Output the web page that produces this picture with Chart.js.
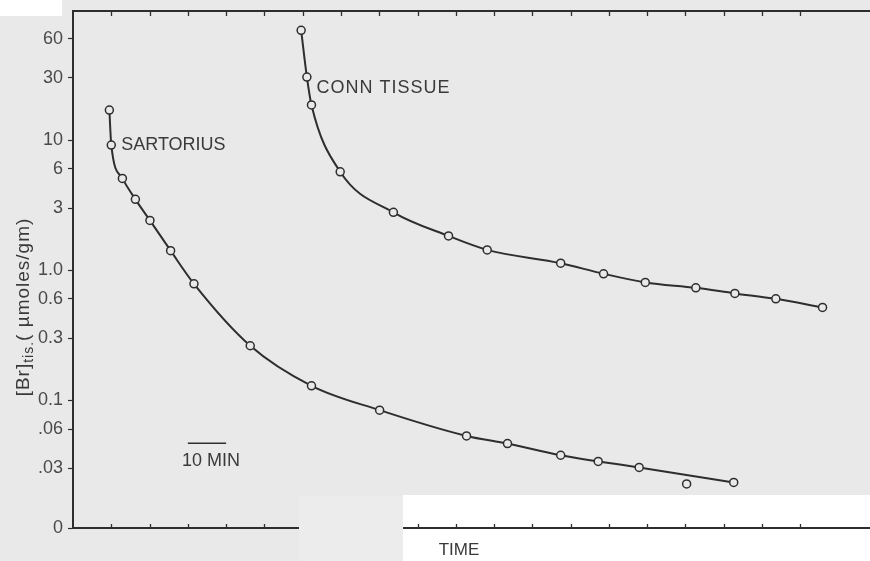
<!DOCTYPE html>
<html>
<head>
<meta charset="utf-8">
<title>Bromide washout</title>
<script src="https://cdn.jsdelivr.net/npm/chart.js@4.4.0/dist/chart.umd.min.js"></script>
<style>
  html, body { margin: 0; padding: 0; background: #e9e9e9; }
  #wrap { width: 870px; height: 561px; }
</style>
</head>
<body>
<div id="wrap"><canvas id="chart" width="870" height="561"></canvas></div>
<script>
// washout time (min) and tissue bromide (umoles/gm)
var sartTime = [9.5, 10.0, 12.9, 16.3, 20.1, 25.5, 31.6, 46.3, 62.3, 80.1, 102.8, 113.5, 127.4, 137.2, 147.9, 172.6];
var sartBr = [17.0, 9.15, 5.07, 3.50, 2.41, 1.41, 0.784, 0.262, 0.129, 0.0838, 0.0531, 0.0464, 0.0377, 0.0338, 0.0304, 0.0233];
// one sartorius point lies off the curve
var strayTime = [160.3];
var strayBr = [0.0227];
var connTime = [59.6, 61.1, 62.3, 69.8, 83.7, 98.1, 108.2, 127.4, 138.6, 149.5, 162.7, 172.9, 183.6, 195.8];
var connBr = [69.8, 30.5, 18.6, 5.70, 2.78, 1.83, 1.43, 1.13, 0.937, 0.804, 0.731, 0.662, 0.601, 0.516];
// axis bottom is labelled "0"
var yTickValues = [0.0104, 0.03, 0.06, 0.1, 0.3, 0.6, 1, 3, 6, 10, 30, 60];
var yTickLabels = ['0', '.03', '.06', '0.1', '0.3', '0.6', '1.0', '3', '6', '10', '30', '60'];
var xTickStep = 10;

var ink = '#2e2e2e';
var paper = '#e9e9e9';
var font = '"Liberation Sans", Arial, sans-serif';

function pts(xs, ys) {
  return xs.map(function (x, i) { return { x: x, y: ys[i] }; });
}

// paper, scan patches, inward ticks and hand lettering
var paperPlugin = {
  id: 'paper',
  beforeDraw: function (chart) {
    var c = chart.ctx;
    c.save();
    c.fillStyle = paper;
    c.fillRect(0, 0, chart.width, chart.height);
    c.fillStyle = '#ffffff';
    c.fillRect(0, 0, 62, 16);
    c.fillRect(403, 495, chart.width - 403, chart.height - 495);
    c.restore();
  },
  afterDraw: function (chart) {
    var c = chart.ctx, a = chart.chartArea;
    var xs = chart.scales.x, ys = chart.scales.y;
    c.save();
    c.strokeStyle = ink;
    c.fillStyle = ink;

    // top frame line
    c.lineWidth = 2;
    c.beginPath();
    c.moveTo(a.left - 1, a.top);
    c.lineTo(a.right, a.top);
    c.stroke();

    // inward ticks top and bottom every 10 min
    c.lineWidth = 1.3;
    xs.ticks.forEach(function (t) {
      if (t.value <= 0 || t.value % xTickStep !== 0) return;
      var px = Math.round(xs.getPixelForValue(t.value)) + 0.5;
      c.beginPath();
      c.moveTo(px, a.top);
      c.lineTo(px, a.top + 5);
      c.moveTo(px, a.bottom);
      c.lineTo(px, a.bottom - 4);
      c.stroke();
    });

    // grey scan patch over the time axis
    c.fillStyle = '#ececec';
    c.fillRect(299, 496, 104, 65);
    c.fillStyle = ink;

    // 10 min scale bar
    var by = ys.getPixelForValue(0.0466);
    c.lineWidth = 1.6;
    c.beginPath();
    c.moveTo(xs.getPixelForValue(30), by);
    c.lineTo(xs.getPixelForValue(40), by);
    c.stroke();

    c.fillStyle = '#3a3a3a';
    c.font = '18px ' + font;
    c.textBaseline = 'middle';
    c.textAlign = 'center';
    c.fillText('10 MIN', (xs.getPixelForValue(30) + xs.getPixelForValue(40)) / 2 + 4, by + 18);

    c.textAlign = 'left';
    c.fillText('SARTORIUS', xs.getPixelForValue(12.6), ys.getPixelForValue(9.15));
    c.letterSpacing = '1px';
    c.fillText('CONN TISSUE', xs.getPixelForValue(63.6), ys.getPixelForValue(25.3));
    c.letterSpacing = '0px';

    c.font = '17px ' + font;
    c.textAlign = 'center';
    c.fillText('TIME', 459, 550);

    // y title with subscript
    c.translate(22, 307);
    c.rotate(-Math.PI / 2);
    c.textAlign = 'left';
    c.textBaseline = 'alphabetic';
    c.letterSpacing = '1px';
    var p1 = '[Br]', p2 = 'tis.', p3 = '( \u00b5moles/gm)';
    c.font = '19px ' + font;
    var w1 = c.measureText(p1).width, w3 = c.measureText(p3).width;
    c.font = '14px ' + font;
    var w2 = c.measureText(p2).width;
    var x0 = -(w1 + w2 + w3) / 2;
    c.font = '19px ' + font;
    c.fillText(p1, x0, 7);
    c.font = '14px ' + font;
    c.fillText(p2, x0 + w1, 11);
    c.font = '19px ' + font;
    c.fillText(p3, x0 + w1 + w2, 7);
    c.restore();
  }
};

var lineStyle = {
  borderColor: ink,
  borderWidth: 2,
  pointRadius: 4,
  pointBorderWidth: 1.5,
  pointBorderColor: ink,
  pointBackgroundColor: paper,
  cubicInterpolationMode: 'monotone',
  fill: false
};

new Chart(document.getElementById('chart'), {
  type: 'line',
  data: {
    datasets: [
      Object.assign({ label: 'SARTORIUS', data: pts(sartTime, sartBr) }, lineStyle),
      Object.assign({ label: 'CONN TISSUE', data: pts(connTime, connBr) }, lineStyle),
      Object.assign({ label: 'stray', data: pts(strayTime, strayBr), showLine: false }, lineStyle)
    ]
  },
  options: {
    responsive: false,
    animation: false,
    devicePixelRatio: 1,
    layout: { autoPadding: false, padding: { top: 11, right: 0, left: 0, bottom: 0 } },
    plugins: { legend: { display: false }, tooltip: { enabled: false } },
    scales: {
      x: {
        type: 'linear',
        min: 0,
        max: 208.2,
        ticks: { display: false, stepSize: xTickStep },
        grid: { display: false },
        border: { display: true, color: ink, width: 2 },
        afterFit: function (s) { s.height = 33; }
      },
      y: {
        type: 'logarithmic',
        min: 0.0104,
        max: 98.2,
        afterBuildTicks: function (s) {
          s.ticks = yTickValues.map(function (v) { return { value: v }; });
        },
        ticks: {
          autoSkip: false,
          padding: 5,
          color: '#4a4a4a',
          font: { family: font, size: 18 },
          callback: function (v, i) { return yTickLabels[i]; }
        },
        grid: { drawOnChartArea: false, tickLength: 5, color: ink, tickWidth: 1.2 },
        border: { display: true, color: ink, width: 2 },
        afterFit: function (s) {
          s.width = 73;
          // keep the plot box where the figure has it
          s.paddingTop = 0;
          s.paddingBottom = 0;
        }
      }
    }
  },
  plugins: [paperPlugin]
});
</script>
</body>
</html>
